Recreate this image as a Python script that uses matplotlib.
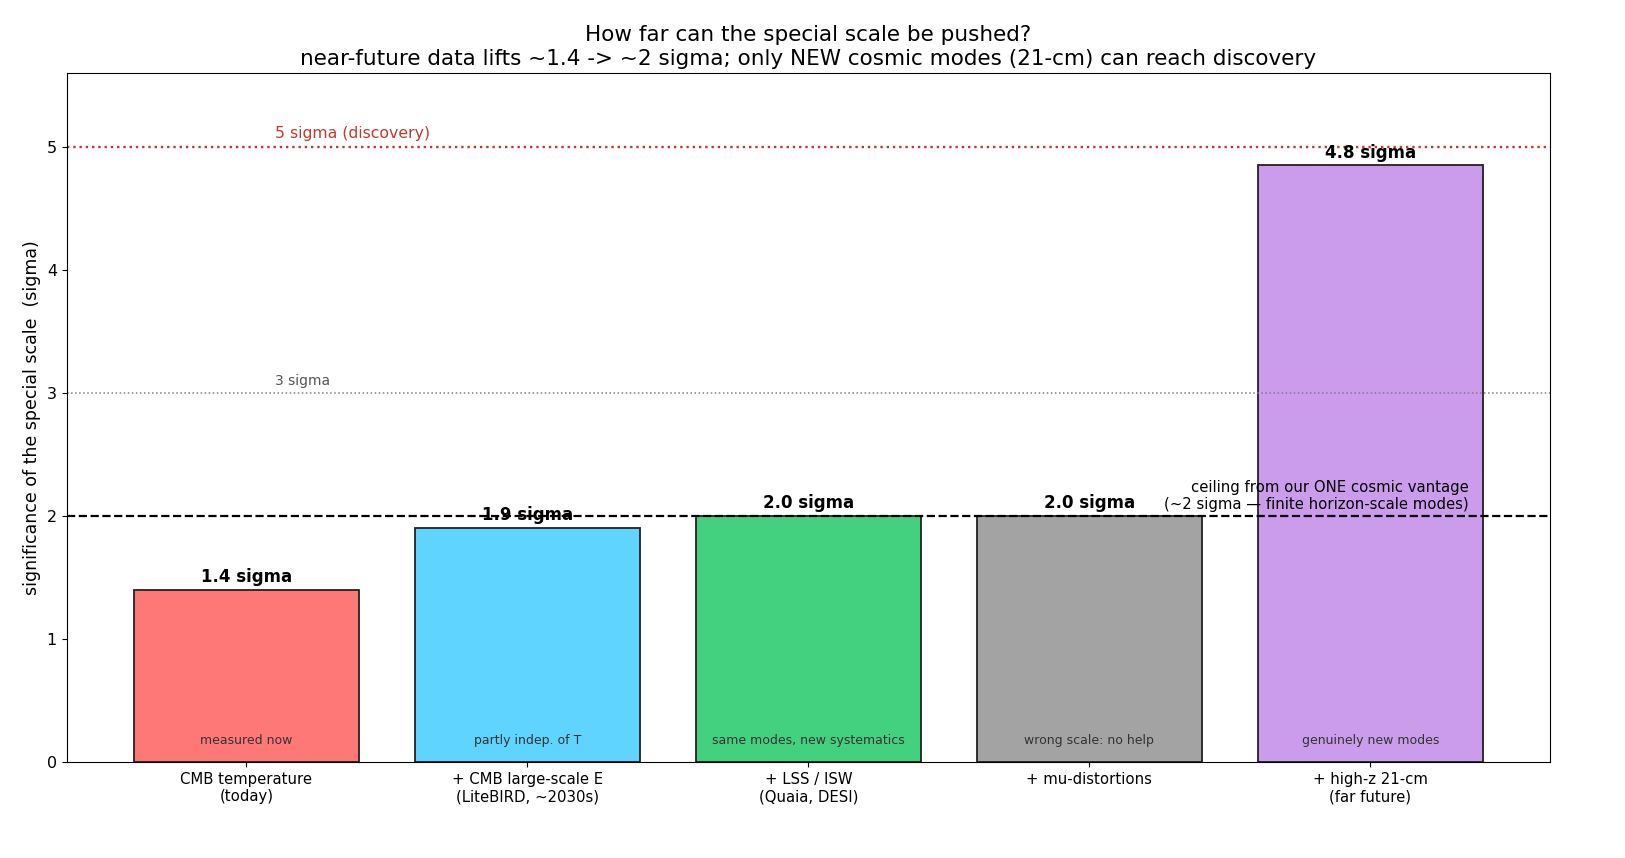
import numpy as np
import matplotlib.pyplot as plt

categories = [
    "CMB temperature\n(today)",
    "+ CMB large-scale E\n(LiteBIRD, ~2030s)",
    "+ LSS / ISW\n(Quaia, DESI)",
    "+ mu-distortions",
    "+ high-z 21-cm\n(far future)",
]
sigmas = [1.4, 1.9, 2.0, 2.0, 4.85]
notes = [
    "measured now",
    "partly indep. of T",
    "same modes, new systematics",
    "wrong scale: no help",
    "genuinely new modes",
]
colors = ["#ff7878", "#5ed4ff", "#43d17f", "#a3a3a3", "#cb9cec"]


def plot_ceiling():
    fig, ax = plt.subplots(figsize=(16.25, 8.58), dpi=100)
    x = np.arange(len(categories))

    ax.bar(x, sigmas, width=0.8, color=colors, edgecolor="#222222", linewidth=1.3)

    for xi, s, note in zip(x, sigmas, notes):
        ax.text(xi, s + 0.03, f"{s:.1f} sigma", ha="center", va="bottom",
                fontsize=12, fontweight="bold")
        ax.text(xi, 0.12, note, ha="center", va="bottom", fontsize=9, color="#333333")

    # reference levels
    ax.axhline(5, color="#c0392b", ls=":", lw=1.7)
    ax.text(0.1, 5.05, "5 sigma (discovery)", color="#c0392b", fontsize=11.3,
            ha="left", va="bottom")
    ax.axhline(3, color="gray", ls=":", lw=1.1)
    ax.text(0.1, 3.04, "3 sigma", color="#555555", fontsize=10, ha="left", va="bottom")
    ax.axhline(2, color="black", ls="--", lw=1.6)
    ax.text(4.35, 2.03, "ceiling from our ONE cosmic vantage\n"
            "(~2 sigma \u2014 finite horizon-scale modes)",
            ha="right", va="bottom", fontsize=10.7)

    ax.set_ylim(0, 5.6)
    ax.set_xticks(x)
    ax.set_xticklabels(categories, fontsize=10.7)
    ax.tick_params(axis="y", labelsize=11.5)
    ax.set_ylabel("significance of the special scale  (sigma)", fontsize=12.5)
    ax.set_title("How far can the special scale be pushed?\n"
                 "near-future data lifts ~1.4 -> ~2 sigma; only NEW cosmic modes "
                 "(21-cm) can reach discovery", fontsize=15.5)

    fig.subplots_adjust(left=0.041, right=0.954, top=0.915, bottom=0.112)
    fig.savefig("out.png", dpi=100)


if __name__ == "__main__":
    plot_ceiling()
